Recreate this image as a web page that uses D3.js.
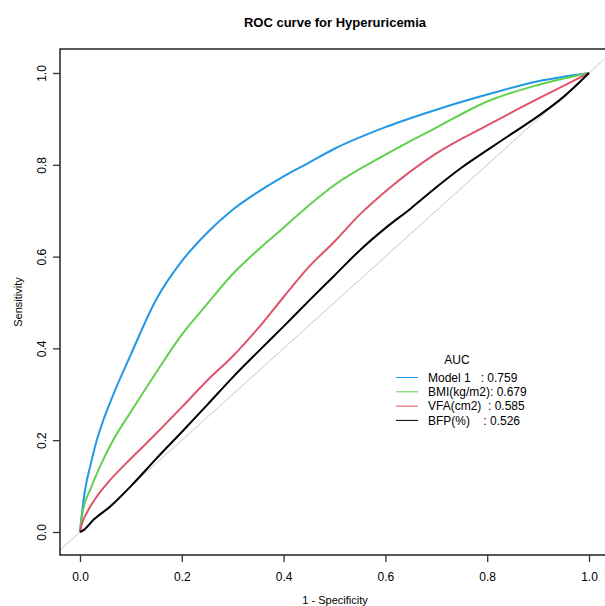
<!DOCTYPE html>
<html><head><meta charset="utf-8">
<script src="https://cdn.jsdelivr.net/npm/d3@7"></script>
<style>body{margin:0;background:#fff}text{font-family:"Liberation Sans",Arial,sans-serif}</style>
</head><body><div id="chart"></div>
<script>
const seriesNames = ["Model 1   : 0.759", "BMI(kg/m2): 0.679", "VFA(cm2)  : 0.585", "BFP(%)    : 0.526"];
const seriesColors = ["#2297E6", "#61D04F", "#DF536B", "#000000"];
const xTicks = [0, 0.2, 0.4, 0.6, 0.8, 1.0];
const yTicks = [0, 0.2, 0.4, 0.6, 0.8, 1.0];
// [1 - specificity, sensitivity]
const model1 = [[0,0],[0.003,0.033],[0.010,0.092],[0.020,0.143],[0.033,0.200],[0.046,0.244],[0.062,0.290],[0.1,0.387],[0.15,0.507],[0.2,0.590],[0.25,0.652],[0.3,0.702],[0.35,0.741],[0.4,0.775],[0.45,0.805],[0.5,0.835],[0.6,0.882],[0.7,0.920],[0.8,0.953],[0.9,0.982],[1,1]];
const bmi = [[0,0],[0.001,0.012],[0.006,0.048],[0.020,0.092],[0.039,0.142],[0.065,0.200],[0.1,0.262],[0.15,0.348],[0.2,0.430],[0.25,0.497],[0.3,0.562],[0.35,0.615],[0.4,0.663],[0.45,0.712],[0.5,0.756],[0.6,0.822],[0.7,0.881],[0.8,0.938],[0.9,0.974],[1,1]];
const vfa = [[0,0],[0.003,0.015],[0.013,0.041],[0.033,0.077],[0.059,0.113],[0.1,0.160],[0.15,0.215],[0.2,0.272],[0.25,0.330],[0.3,0.383],[0.35,0.444],[0.4,0.512],[0.45,0.578],[0.5,0.633],[0.55,0.692],[0.6,0.742],[0.7,0.825],[0.8,0.886],[0.9,0.944],[1,1]];
const bfp = [[0,0],[0.007,0.004],[0.026,0.026],[0.059,0.055],[0.1,0.100],[0.15,0.160],[0.2,0.218],[0.25,0.277],[0.3,0.337],[0.35,0.393],[0.4,0.448],[0.45,0.504],[0.5,0.559],[0.55,0.614],[0.6,0.662],[0.65,0.705],[0.7,0.751],[0.75,0.794],[0.8,0.832],[0.85,0.869],[0.9,0.906],[0.95,0.948],[1,1]];
const series = [model1, bmi, vfa, bfp];

const W = 605, H = 606;
const svg = d3.select("#chart").append("svg").attr("width", W).attr("height", H);
const x = d3.scaleLinear().domain([0, 1]).range([80, 589]);
const y = d3.scaleLinear().domain([0, 1]).range([532, 73]);
const box = {l: 60, t: 49, r: 610, b: 555};

svg.append("defs").append("clipPath").attr("id", "clip")
  .append("rect").attr("x", box.l).attr("y", box.t).attr("width", box.r - box.l).attr("height", box.b - box.t);

// diagonal
svg.append("line").attr("clip-path", "url(#clip)")
  .attr("x1", x(-0.2)).attr("y1", y(-0.2)).attr("x2", x(1.2)).attr("y2", y(1.2))
  .attr("stroke", "#c8c8c8").attr("stroke-width", 1);

const line = d3.line().x(d => x(d[0])).y(d => y(d[1])).curve(d3.curveMonotoneX);
series.forEach((s, i) => {
  svg.append("path").datum(s).attr("d", line).attr("fill", "none")
    .attr("stroke", seriesColors[i]).attr("stroke-width", 2).attr("stroke-linejoin", "round");
});

// box
svg.append("rect").attr("x", box.l).attr("y", box.t).attr("width", box.r - box.l).attr("height", box.b - box.t)
  .attr("fill", "none").attr("stroke", "#000").attr("stroke-width", 1.3);

// axes
const fmt = d3.format(".1f");
const xa = svg.append("g").attr("transform", `translate(0,${box.b})`)
  .call(d3.axisBottom(x).tickValues(xTicks).tickFormat(fmt).tickSize(7).tickPadding(10));
xa.select(".domain").remove();
xa.selectAll("line").attr("stroke", "#333").attr("stroke-width", 1.3);
xa.selectAll("text").attr("font-size", 12).attr("fill", "#000").style("font-family", '"Liberation Sans",Arial,sans-serif');

const ya = svg.append("g").attr("transform", `translate(${box.l},0)`)
  .call(d3.axisLeft(y).tickValues(yTicks).tickFormat(fmt).tickSize(7));
ya.select(".domain").remove();
ya.selectAll("line").attr("stroke", "#333").attr("stroke-width", 1.3);
ya.selectAll("text").remove();
ya.selectAll(".tick").append("text").attr("transform", "translate(-18,0) rotate(-90)")
  .attr("text-anchor", "middle").attr("dy", "0.35em").attr("font-size", 12).attr("fill", "#000")
  .text(d => fmt(d));

// titles
svg.append("text").attr("x", 335).attr("y", 27).attr("text-anchor", "middle")
  .attr("font-size", 13).attr("font-weight", "bold").text("ROC curve for Hyperuricemia");
svg.append("text").attr("x", 335).attr("y", 604).attr("text-anchor", "middle")
  .attr("font-size", 11).text("1 - Specificity");
svg.append("text").attr("transform", "translate(22,302) rotate(-90)").attr("text-anchor", "middle")
  .attr("font-size", 11).text("Sensitivity");

// legend
const lg = svg.append("g");
lg.append("text").attr("x", 457).attr("y", 364).attr("text-anchor", "middle").attr("font-size", 12).text("AUC");
seriesNames.forEach((n, i) => {
  const yy = 377.5 + i * 14.3;
  lg.append("line").attr("x1", 396).attr("x2", 418).attr("y1", yy).attr("y2", yy)
    .attr("stroke", seriesColors[i]).attr("stroke-width", 1);
  lg.append("text").attr("x", 428).attr("y", yy + 4.3).attr("font-size", 12)
    .style("white-space", "pre").text(n);
});
</script></body></html>
